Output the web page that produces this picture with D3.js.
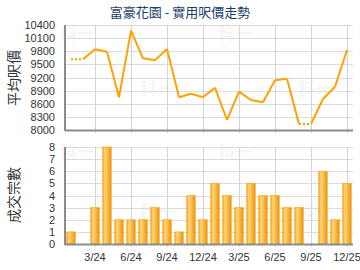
<!DOCTYPE html>
<html><head><meta charset="utf-8">
<script src="https://cdn.jsdelivr.net/npm/d3@7"></script>
<style>body{margin:0;background:#fff}svg{display:block}</style>
</head><body>
<svg id="c" width="360" height="270"></svg>
<script>
const titleText = "富豪花園 - 實用呎價走勢";
const months = ["1/24","2/24","3/24","4/24","5/24","6/24","7/24","8/24","9/24","10/24","11/24","12/24",
                "1/25","2/25","3/25","4/25","5/25","6/25","7/25","8/25","9/25","10/25","11/25","12/25"];
const prices = [9616,null,9844,9790,8747,10270,9638,9593,9851,8750,8830,8747,
                8967,8229,8876,8686,8632,9135,9173,8137,null,8709,8990,9829];
const volumes = [1,0,3,8,2,2,2,3,2,1,4,2,5,4,3,5,4,4,3,3,0,6,2,5];
const priceTicks = [8000,8300,8600,8900,9200,9500,9800,10100,10400];
const volTicks = [0,1,2,3,4,5,6,7,8];
const xTickLabels = ["3/24","6/24","9/24","12/24","3/25","6/25","9/25","12/25"];

const svg = d3.select("#c");
const L = 65, R = 353;
const top1 = 25, bot1 = 130, top2 = 147, bot2 = 244;
const numFont = "'Liberation Sans', Arial, sans-serif";
const cjkFont = "'Noto Sans CJK TC', sans-serif";

const x = d3.scaleBand().domain(months).range([L, R]).paddingInner(0.29).paddingOuter(0.145);
const xc = m => x(m) + x.bandwidth() / 2;
const y1 = d3.scaleLinear().domain([8000, 10400]).range([bot1, top1]);
const y2 = d3.scaleLinear().domain([0, 8]).range([bot2, top2]);

const defs = svg.append("defs");
const g = defs.append("linearGradient").attr("id","bar").attr("x1","0").attr("x2","1").attr("y1","0").attr("y2","0");
[[0,"#f2a61c"],[0.25,"#ffd27a"],[0.5,"#fcc45a"],[0.75,"#f3aa2a"],[1,"#e99a0c"]].forEach(([o,c]) =>
  g.append("stop").attr("offset", o).attr("stop-color", c));

// faint watermarks
const wm = [[60,40],[140,95],[218,40],[298,95],[60,158],[140,218],[218,158],[298,218]];
svg.append("g").selectAll("text").data(wm).join("text")
  .attr("x", d => d[0]).attr("y", d => d[1]).text("科一")
  .attr("font-family", cjkFont).attr("font-weight","bold").attr("font-size", 17)
  .attr("fill", "#f5f5f5");

function grid(yScale, ticks, top, bot) {
  const gg = svg.append("g");
  gg.selectAll("line.h").data(ticks).join("line")
    .attr("x1", L).attr("x2", R).attr("y1", d => Math.round(yScale(d)) + 0.5).attr("y2", d => Math.round(yScale(d)) + 0.5)
    .attr("stroke", "#dcdcdc").attr("stroke-width", 1);
  gg.selectAll("line.v").data(xTickLabels).join("line")
    .attr("x1", d => Math.round(xc(d)) + 0.5).attr("x2", d => Math.round(xc(d)) + 0.5)
    .attr("y1", top).attr("y2", bot + 3)
    .attr("stroke", "#d4d4d4").attr("stroke-width", 1);
}
grid(y1, priceTicks, top1, bot1);
grid(y2, volTicks, top2, bot2);

function yAxis(yScale, ticks) {
  const a = svg.append("g").attr("transform", `translate(${L},0)`)
    .call(d3.axisLeft(yScale).tickValues(ticks).tickSize(0).tickPadding(10).tickFormat(d3.format("d")));
  a.select(".domain").remove();
  a.selectAll("text").attr("font-family", numFont).attr("font-size", 11).attr("fill", "#333");
}
yAxis(y1, priceTicks);
yAxis(y2, volTicks);

const xa = svg.append("g").attr("transform", `translate(0,${bot2})`)
  .call(d3.axisBottom(x).tickValues(xTickLabels).tickSize(0).tickPadding(9));
xa.select(".domain").remove();
xa.selectAll("text").attr("font-family", numFont).attr("font-size", 11).attr("fill", "#333");

svg.append("g").selectAll("rect").data(months.map((m,i)=>({m, v: volumes[i]})).filter(d => d.v > 0)).join("rect")
  .attr("x", d => x(d.m)).attr("width", x.bandwidth())
  .attr("y", d => y2(d.v)).attr("height", d => y2(0) - y2(d.v))
  .attr("fill", "url(#bar)").attr("stroke", "#f0a418").attr("stroke-width", 0.6);

let pts = [], last = null;
prices.forEach((p, i) => {
  const val = p == null ? last : p;
  pts.push({m: months[i], v: val, carried: p == null});
  last = val;
});
const line = d3.line().x(d => xc(d.m)).y(d => y1(d.v));
for (let i = 1; i < pts.length; i++) {
  const seg = [pts[i-1], pts[i]];
  const dotted = pts[i].carried;
  svg.append("path").attr("d", line(seg)).attr("fill", "none")
    .attr("stroke", "#ffa200").attr("stroke-width", 2)
    .attr("stroke-linejoin", "round")
    .attr("stroke-dasharray", dotted ? "2,2" : null);
}

function axLines(top, bot) {
  svg.append("line").attr("x1", L).attr("x2", L).attr("y1", top).attr("y2", bot + 1)
    .attr("stroke", "#8c8c8c").attr("stroke-width", 2);
  svg.append("line").attr("x1", L).attr("x2", R).attr("y1", bot + 0.5).attr("y2", bot + 0.5)
    .attr("stroke", "#8c8c8c").attr("stroke-width", 2);
}
axLines(top1, bot1);
axLines(top2, bot2);

svg.append("text").attr("x", 180).attr("y", 17).attr("text-anchor", "middle")
  .attr("font-family", cjkFont).attr("font-size", 13).attr("fill", "#1c3c6c").text(titleText);
svg.append("text").attr("transform", "translate(19,78) rotate(-90)").attr("text-anchor", "middle")
  .attr("font-family", cjkFont).attr("font-size", 14).attr("fill", "#333").text("平均呎價");
svg.append("text").attr("transform", "translate(19,195) rotate(-90)").attr("text-anchor", "middle")
  .attr("font-family", cjkFont).attr("font-size", 14).attr("fill", "#333").text("成交宗數");
</script>
</body></html>
